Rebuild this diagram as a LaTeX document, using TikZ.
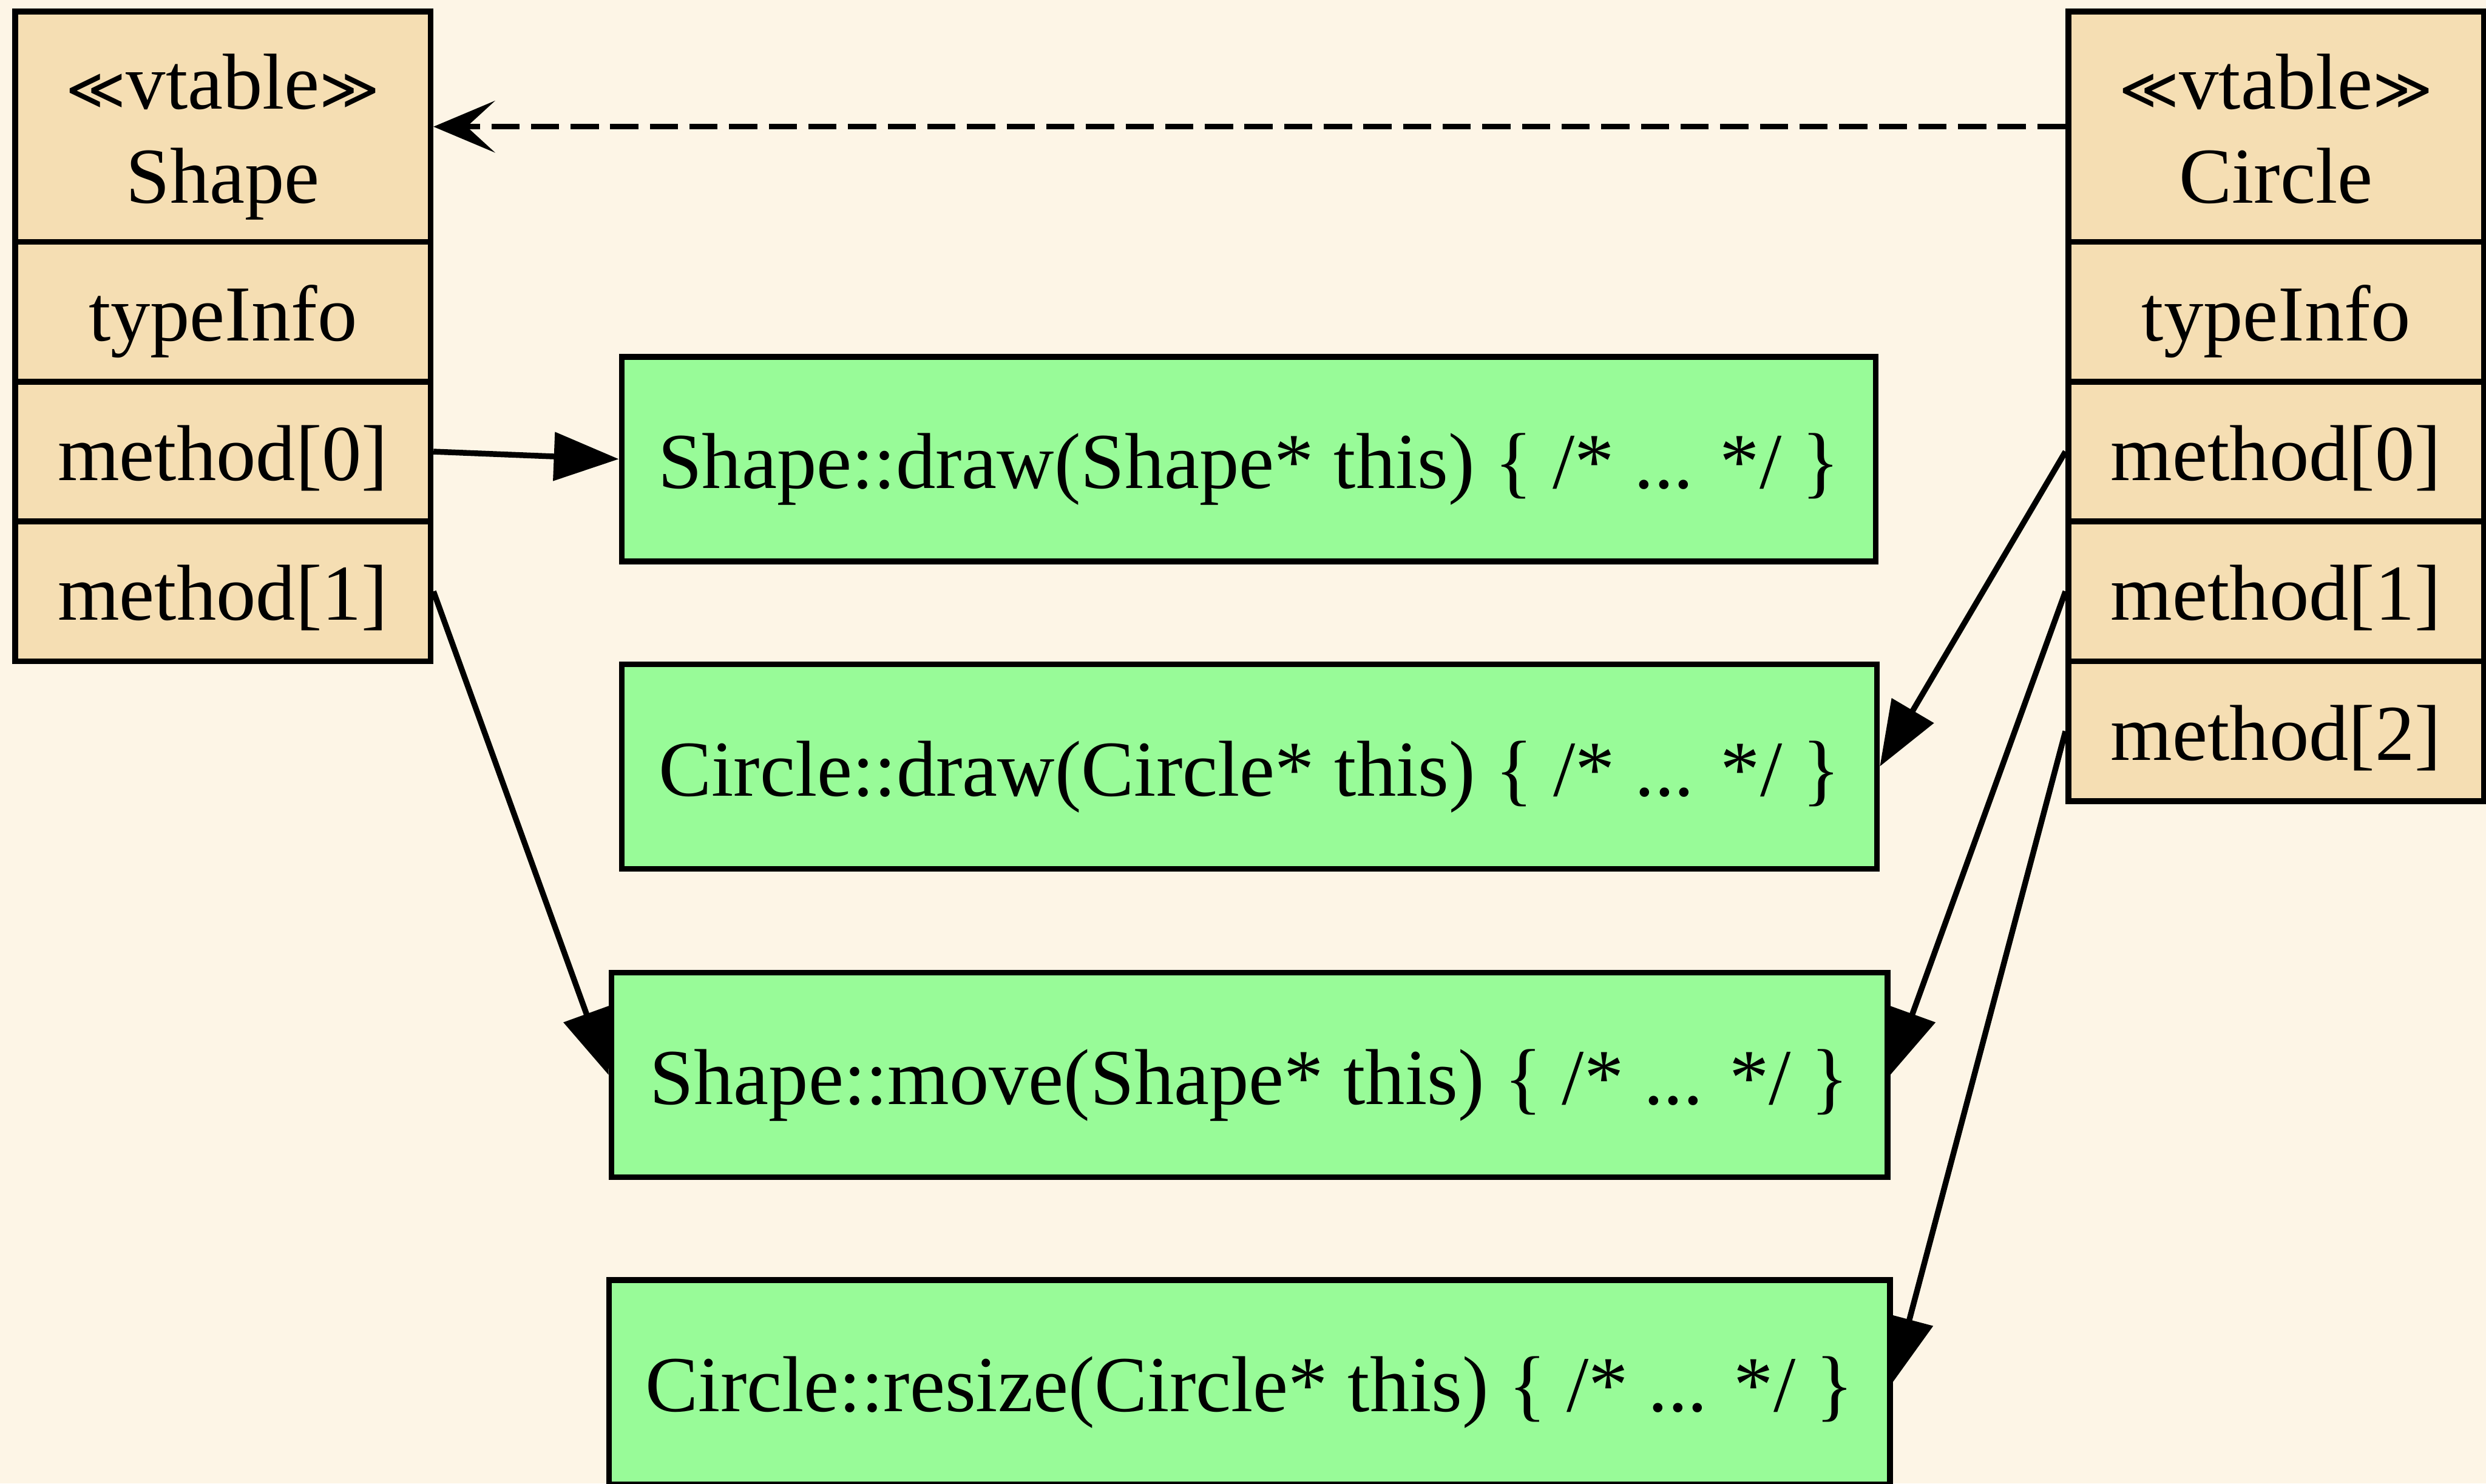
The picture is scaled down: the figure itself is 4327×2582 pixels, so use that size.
\documentclass[tikz,border=0pt]{standalone}
\usepackage{fontspec}
\setmainfont{Liberation Serif}
\newfontfamily\anglefont{DejaVu Sans}
\usetikzlibrary{arrows.meta}
\definecolor{oldlace}{HTML}{FDF5E6}
\definecolor{wheat}{HTML}{F5DEB3}
\definecolor{palegreen}{HTML}{98FB98}
\pgfdeclarelayer{bglayer}
\pgfdeclarelayer{edgelayer}
\pgfsetlayers{bglayer,edgelayer,main}
% stereotype brackets
\newcommand{\stereo}[1]{{\anglefont\fontsize{10pt}{13pt}\selectfont ≪}#1{\anglefont\fontsize{10pt}{13pt}\selectfont ≫}}
\tikzset{
  every node/.style={font=\fontsize{13.8pt}{16.6pt}\selectfont},
  rowbox/.style={draw, fill=wheat, line width=1pt, minimum width=72.3pt,
    minimum height=24.33pt, inner sep=0pt, text height=10pt, text depth=0pt},
  hdrbox/.style={rowbox, minimum height=40.1pt},
  hdrtext/.style={anchor=base, inner sep=0pt},
  fnbox/.style={draw, fill=palegreen, line width=1pt, minimum height=35.6pt,
    inner sep=0pt, text height=10.2pt, text depth=0pt},
  slotedge/.style={line width=1pt, -{Triangle[length=11.3pt,width=8.3pt]}},
  baseedge/.style={line width=1pt, dash pattern=on 4.9pt off 2pt,
    -{Stealth[length=10.7pt,width=9pt,inset=4.9pt]}}
}
\begin{document}
\begin{tikzpicture}[x=0.1pt, y=-0.1pt]
\useasboundingbox (0,0) rectangle (4327,2582);
\clip (0,0) rectangle (4327,2582);
\begin{pgfonlayer}{bglayer}
  \fill[oldlace] (0,0) rectangle (4327,2582);
\end{pgfonlayer}

% vtable of Shape
\node[hdrbox] (shapeHdr) at (388,220.5) {};
\node[hdrtext] (shapeSt) at (388,189.5) {\stereo{vtable}};
\node[hdrtext] (shapeNm) at (388,353.5) {Shape};
\node[rowbox] (shapeTI) at (388,542.7) {typeInfo};
\node[rowbox] (shapeM0) at (388,786) {method[0]};
\node[rowbox] (shapeM1) at (388,1029.3) {method[1]};

% vtable of Circle
\node[hdrbox] (circHdr) at (3961.5,220.5) {};
\node[hdrtext] (circSt) at (3961.5,189.5) {\stereo{vtable}};
\node[hdrtext] (circNm) at (3961.5,353.5) {Circle};
\node[rowbox] (circTI) at (3961.5,542.7) {typeInfo};
\node[rowbox] (circM0) at (3961.5,786) {method[0]};
\node[rowbox] (circM1) at (3961.5,1029.3) {method[1]};
\node[rowbox] (circM2) at (3961.5,1272.7) {method[2]};

% method implementations
\node[fnbox, minimum width=218.3pt] (fnSD) at (2173.5,799) {Shape::draw(Shape* this) \{ /* ... */ \}};
\node[fnbox, minimum width=218.5pt] (fnCD) at (2174.5,1334) {Circle::draw(Circle* this) \{ /* ... */ \}};
\node[fnbox, minimum width=222.1pt] (fnSM) at (2174.7,1871) {Shape::move(Shape* this) \{ /* ... */ \}};
\node[fnbox, minimum width=222.95pt] (fnCR) at (2174.7,2406) {Circle::resize(Circle* this) \{ /* ... */ \}};

% slot pointers, drawn beneath the boxes
\begin{pgfonlayer}{edgelayer}
  \draw[baseedge] (circHdr.west) -- (shapeHdr.east);
  \draw[slotedge] (shapeM0.east) -- (fnSD.west);
  \draw[slotedge] (shapeM1.east) -- (fnSM.west);
  \draw[slotedge] (circM0.west) -- (fnCD.east);
  \draw[slotedge] (circM1.west) -- (fnSM.east);
  \draw[slotedge] (circM2.west) -- (fnCR.east);
\end{pgfonlayer}
\end{tikzpicture}
\end{document}
